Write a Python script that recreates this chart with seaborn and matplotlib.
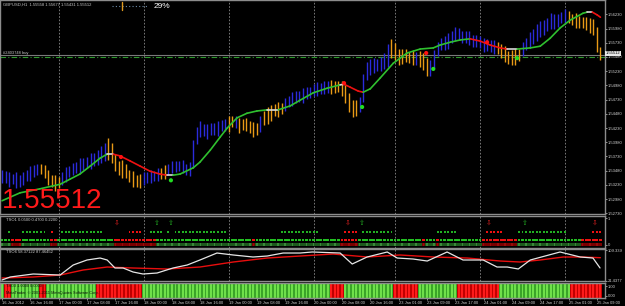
import matplotlib
matplotlib.use("Agg")
import matplotlib.pyplot as plt
import seaborn as sns
import numpy as np
import pandas as pd

# ---------------- data ----------------
closes = [
    1.5338, 1.5335, 1.5331, 1.5335, 1.5328, 1.5331, 1.5338, 1.5342, 1.5345, 1.5349,
    1.5352, 1.5351, 1.5342, 1.5331, 1.5328, 1.5324, 1.5331, 1.5338, 1.5345, 1.5349,
    1.5352, 1.5356, 1.5358, 1.5361, 1.5363, 1.5366, 1.5370, 1.5373, 1.5379, 1.5384,
    1.5388, 1.5370, 1.5356, 1.5349, 1.5352, 1.5342, 1.5335, 1.5331, 1.5328, 1.5331,
    1.5337, 1.5335, 1.5340, 1.5338, 1.5345, 1.5342, 1.5349, 1.5352, 1.5356, 1.5354,
    1.5358, 1.5352, 1.5349, 1.5352, 1.5402, 1.5419, 1.5423, 1.5416, 1.5419, 1.5423,
    1.5419, 1.5426, 1.5430, 1.5426, 1.5433, 1.5437, 1.5430, 1.5426, 1.5433, 1.5426,
    1.5423, 1.5419, 1.5423, 1.5437, 1.5444, 1.5447, 1.5451, 1.5458, 1.5454, 1.5461,
    1.5468, 1.5472, 1.5476, 1.5479, 1.5477, 1.5483, 1.5486, 1.5486, 1.5493, 1.5490,
    1.5495, 1.5493, 1.5497, 1.5493, 1.5497, 1.5495, 1.5490, 1.5476, 1.5461, 1.5454,
    1.5461, 1.5469, 1.5518, 1.5528, 1.5532, 1.5535, 1.5532, 1.5539, 1.5542, 1.5560,
    1.5567, 1.5549, 1.5546, 1.5553, 1.5549, 1.5546, 1.5549, 1.5542, 1.5546, 1.5535,
    1.5525, 1.5532, 1.5557, 1.5567, 1.5574, 1.5571, 1.5581, 1.5585, 1.5592, 1.5585,
    1.5581, 1.5585, 1.5578, 1.5574, 1.5578, 1.5571, 1.5567, 1.5571, 1.5564, 1.5567,
    1.5560, 1.5557, 1.5549, 1.5546, 1.5549, 1.5546, 1.5557, 1.5567, 1.5574, 1.5581,
    1.5588, 1.5595, 1.5599, 1.5602, 1.5609, 1.5613, 1.5609, 1.5616, 1.5618, 1.5620,
    1.5616, 1.5613, 1.5611, 1.5609, 1.5608, 1.5606, 1.5602, 1.5599, 1.5557, 1.55512,
]
bar_range_pips = [
    22, 20, 26, 18, 28, 20, 22, 20, 26, 22,
    20, 18, 24, 26, 20, 28, 20, 22, 26, 20,
    22, 20, 26, 22, 20, 28, 22, 26, 30, 32,
    40, 34, 30, 26, 32, 24, 22, 28, 20, 24,
    22, 20, 24, 18, 22, 20, 24, 20, 22, 20,
    18, 22, 20, 24, 40, 30, 28, 22, 26, 20,
    22, 26, 20, 22, 28, 20, 22, 26, 20, 22,
    20, 26, 22, 28, 26, 30, 28, 22, 26, 20,
    22, 20, 26, 22, 20, 26, 22, 20, 22, 26,
    20, 22, 20, 26, 22, 20, 28, 32, 34, 30,
    28, 26, 44, 32, 28, 26, 22, 26, 28, 40,
    34, 30, 28, 26, 22, 20, 26, 22, 28, 30,
    32, 28, 30, 26, 22, 26, 28, 22, 26, 22,
    20, 22, 26, 20, 22, 20, 26, 22, 20, 26,
    22, 26, 28, 22, 26, 28, 22, 26, 22, 28,
    26, 30, 28, 26, 22, 28, 26, 22, 20, 26,
    22, 20, 26, 22, 20, 22, 26, 28, 44, 22,
]
orange_start = [11, 30, 45, 64, 67, 74, 93, 96, 110, 118, 140, 160]
orange_end = [16, 39, 46, 65, 72, 79, 95, 100, 116, 120, 146, 169]

ma_idx = [0, 5.1, 10.7, 16.4, 19.2, 22.0, 24.9, 27.7, 29.7, 31.4, 33.3, 36.2, 39.0, 41.8,
          44.6, 46.6, 48.3, 50.3, 54.0, 55.9, 58.8, 61.6, 63.6, 66.4, 69.2, 72.0, 74.9,
          78.0, 81.4, 84.2, 87.9, 91.8, 95.5, 96.6, 98.3, 100.6, 102.0, 104.0, 106.8,
          110.5, 114.4, 118.1, 121.8, 123.7, 126.6, 129.4, 132.2, 135.0, 137.9, 140.7,
          142.7, 145.5, 149.2, 152.0, 154.8, 157.6, 160.5, 164.1, 165.3, 166.7, 168.1, 169.0]
ma_val = [1.5295, 1.5309, 1.5316, 1.5324, 1.5333, 1.5342, 1.5356, 1.5370, 1.5377, 1.5377,
          1.5374, 1.5365, 1.5356, 1.5347, 1.5342, 1.5340, 1.5340, 1.5342, 1.5353, 1.5363,
          1.5384, 1.5407, 1.5423, 1.5441, 1.5449, 1.5453, 1.5455, 1.5455, 1.5462, 1.5472,
          1.5485, 1.5493, 1.5499, 1.5500, 1.5495, 1.5488, 1.5486, 1.5492, 1.5511, 1.5537,
          1.5555, 1.5562, 1.5564, 1.5569, 1.5574, 1.5578, 1.5580, 1.5576, 1.5569, 1.5564,
          1.5562, 1.5562, 1.5564, 1.5567, 1.5581, 1.5599, 1.5613, 1.5625, 1.5627, 1.5627,
          1.5622, 1.5618]

sell_idx = [33.6, 96.6, 119.8, 137.0]
sell_px = [1.5372, 1.5502, 1.5555, 1.5574]
buy_idx = [47.7, 101.7, 121.8, 145.5]
buy_px = [1.5331, 1.5460, 1.5527, 1.5546]

last_price = 1.55512
order_price = 1.55472

price_ticks = [1.56230, 1.55980, 1.55730, 1.55480, 1.55230, 1.54980, 1.54730, 1.54480,
               1.54230, 1.53980, 1.53730, 1.53480, 1.53230, 1.52980, 1.52730]
price_tick_labels = ["1.56230", "1.55980", "1.55730", "1.55480", "1.55230", "1.54980",
                     "1.54730", "1.54480", "1.54230", "1.53980", "1.53730", "1.53480",
                     "1.53230", "1.52980", "1.52730"]

time_tick_idx = [0, 8, 16, 24, 32, 40, 48, 56, 64, 72, 80, 88, 96, 104, 112, 120, 128,
                 136, 144, 152, 160, 168]
time_tick_labels = ["16 Jan 2012", "16 Jan 16:00", "17 Jan 00:00", "17 Jan 08:00",
                    "17 Jan 16:00", "18 Jan 00:00", "18 Jan 08:00", "18 Jan 16:00",
                    "19 Jan 00:00", "19 Jan 08:00", "19 Jan 16:00", "20 Jan 00:00",
                    "20 Jan 08:00", "20 Jan 16:00", "23 Jan 01:00", "23 Jan 09:00",
                    "23 Jan 17:00", "24 Jan 01:00", "24 Jan 09:00", "24 Jan 17:00",
                    "25 Jan 01:00", "25 Jan 09:00"]
day_idx = [16, 40, 64, 88, 111, 135, 159]

# indicator panel 2 (TSO1)
arrow_dn_idx = [32.5, 97.7, 137.6, 167.5]
arrow_up_idx = [43.8, 47.7, 101.7, 147.5]
dot_start = [2, 6, 14, 17, 36, 42, 47, 49, 79, 97, 102, 123, 137, 146, 167]
dot_end = [2, 12, 14, 28, 39, 45, 47, 63, 89, 100, 110, 128, 141, 159, 169]
dot_up = [1, 1, 0, 1, 0, 1, 1, 1, 1, 0, 1, 1, 0, 1, 0]
state_start = [0, 3, 6, 14, 16, 32, 44, 71, 72, 96, 101, 119, 120, 123, 124, 136, 146, 164]
state_end = [3, 6, 14, 16, 32, 44, 71, 72, 96, 101, 119, 120, 123, 124, 136, 146, 164, 170]
state_up = [1, 0, 1, 0, 1, 0, 1, 0, 1, 0, 1, 0, 1, 0, 1, 0, 1, 0]

# indicator panel 3 (TSO6)
osc_idx = [0, 2.3, 8.8, 16.4, 20.1, 24.0, 27.7, 29.7, 31.9, 34.2, 37.0, 39.8, 43.8, 48.3,
           52.3, 55.9, 60.7, 65.3, 70.9, 74.9, 79.4, 84.2, 87.6, 95.5, 98.9, 103.1, 108.8,
           111.6, 116.1, 120.1, 125.7, 130.2, 135.9, 139.8, 142.7, 145.8, 149.2, 157.6,
           163.3, 166.9, 168.9]
osc_val = [24.3, 32.8, 41.3, 38.4, 66.8, 81.0, 86.6, 81.0, 58.3, 58.3, 47.0, 41.3, 44.1,
           58.3, 66.8, 81.0, 100.8, 95.2, 89.5, 92.3, 100.8, 100.8, 103.7, 100.8, 69.6,
           89.5, 103.7, 86.6, 83.8, 78.1, 103.7, 81.0, 81.0, 61.1, 61.1, 55.5, 81.0, 103.7,
           89.5, 86.6, 58.4]
sig_idx = [0, 8.8, 16.4, 22.9, 29.7, 37.0, 46.6, 55.9, 65.3, 74.9, 84.2, 93.5, 103.1,
           112.4, 121.8, 131.4, 140.7, 146.3, 152.0, 158.5, 164.1, 169.0]
sig_val = [29.9, 32.8, 38.4, 52.6, 61.1, 58.3, 55.5, 61.1, 75.3, 86.6, 92.3, 98.0, 89.5,
           95.2, 89.5, 86.6, 78.1, 75.3, 81.0, 89.5, 89.5, 87.5]

# indicator panel 4 (histogram)
hist_start = [0, 1, 3, 11, 13, 27, 40, 93, 97, 111, 118, 129, 141, 161]
hist_end = [1, 3, 11, 13, 27, 40, 93, 97, 111, 118, 129, 141, 161, 170]
hist_up = [1, 0, 1, 0, 1, 0, 1, 0, 1, 0, 1, 0, 1, 0]

# ---------------- style ----------------
sns.set_theme(style="dark", rc={"axes.facecolor": "black", "figure.facecolor": "black",
                                "savefig.facecolor": "black"})
plt.rcParams['font.family'] = ['Liberation Sans', 'DejaVu Sans']

W, H = 625, 306
fig = plt.figure(figsize=(6.25, 3.06), dpi=100)


def add_ax(top, bottom, right=605):
    return fig.add_axes([0, 1 - bottom / H, right / W, (bottom - top) / H])


ax1 = add_ax(0, 214)
ax2 = add_ax(216, 248)
ax3 = add_ax(249, 281)
ax4 = add_ax(283, 298)
XL = (-0.57, 170.3)
GRID = '#8a8a8a'
LBL = '#d0d0d0'
for ax in (ax1, ax2, ax3, ax4):
    ax.set_facecolor('black')
    ax.set_xlim(XL)
    ax.grid(False)
    for s in ax.spines.values():
        s.set_color('#8c8c8c')
        s.set_linewidth(1.0)
        s.set_visible(True)
    ax.tick_params(axis='x', bottom=False, labelbottom=False)
    ax.yaxis.tick_right()
    ax.tick_params(axis='y', labelsize=3.0, colors=LBL, length=1.5, width=0.5, pad=0.8)
    for d in day_idx:
        ax.axvline(d, color=GRID, lw=0.6, ls=(0, (2, 2)), zorder=0.5)

# ---------------- main price panel ----------------
n = len(closes)
idx = np.arange(n)
c = np.array(closes)
o = np.concatenate([[c[0]], c[:-1]])
rng = np.array(bar_range_pips[:n]) * 0.0001
body = np.abs(c - o)
tot = np.maximum(body, rng)
pad = (tot - body) / 2
hi = np.maximum(o, c) + pad
lo = np.minimum(o, c) - pad
is_orange = np.zeros(n, bool)
for s_, e_ in zip(orange_start, orange_end):
    is_orange[s_:e_ + 1] = True
cols = np.where(is_orange, '#e99a16', '#2b2bdc')
bars = pd.DataFrame({"i": idx, "lo": lo, "hi": hi, "col": cols})
ax1.vlines(bars["i"], bars["lo"], bars["hi"], colors=bars["col"], linewidth=1.0, zorder=2)

ax1.set_ylim(1.52717, 1.56483)
ax1.set_yticks(price_ticks)
ax1.set_yticklabels(price_tick_labels)

# moving average coloured by direction
m = min(len(ma_idx), len(ma_val))
for k in range(m - 1):
    d = ma_val[k + 1] - ma_val[k]
    if d > 0.00012:
        col = '#2fc02f'
    elif d < -0.00012:
        col = '#ee1111'
    else:
        col = '#d8d8d8'
    ax1.plot(ma_idx[k:k + 2], ma_val[k:k + 2], color=col, lw=1.2, zorder=3,
             solid_capstyle='round')

sns.scatterplot(x=sell_idx, y=sell_px, ax=ax1, color='#ff1010', s=9, marker='o',
                edgecolor='none', zorder=4, legend=False)
sns.scatterplot(x=buy_idx, y=buy_px, ax=ax1, color='#22dd22', s=9, marker='o',
                edgecolor='none', zorder=4, legend=False)

ax1.axhline(last_price, color='#7a7a7a', lw=0.8, zorder=1)
ax1.axhline(order_price, color='#2e9a2e', lw=0.8, ls=(0, (5, 2, 1, 2)), zorder=1)

# ---------------- panel 2 ----------------
ax2.set_ylim(-0.12, 1.08)
ax2.set_yticks([1, 0])
ax2.set_yticklabels(["1", "0"])
for s_, e_, u in zip(state_start, state_end, state_up):
    xs = np.arange(s_, min(e_, n))
    ax2.bar(xs, 0.11, bottom=-0.045, width=1.0,
            color='#1d5a1d' if u else '#7a0000', edgecolor='none', zorder=1)
    ax2.bar(xs[::2], 0.11, bottom=-0.045, width=0.45,
            color='#3a8a3a' if u else '#9a0a0a', edgecolor='none', zorder=1.2)
    sns.scatterplot(x=xs, y=np.full(len(xs), 0.18), ax=ax2, marker='s', s=4,
                    color='#22c022' if u else '#ee1111', edgecolor='none', legend=False,
                    zorder=2)
for s_, e_, u in zip(dot_start, dot_end, dot_up):
    xs = np.arange(s_, e_ + 1)
    sns.scatterplot(x=xs, y=np.full(len(xs), 0.48), ax=ax2, marker='s', s=2,
                    color='#22b022' if u else '#ee1111', edgecolor='none', legend=False,
                    zorder=2)
for xi in arrow_dn_idx:
    ax2.text(xi, 0.82, "\u21e9", color='#dd2020', fontsize=5, ha='center', va='center',
             family='DejaVu Sans')
for xi in arrow_up_idx:
    ax2.text(xi, 0.82, "\u21e7", color='#22aa22', fontsize=5, ha='center', va='center',
             family='DejaVu Sans')
ax2.text(1, 0.99, "TSO1 0.0500 0.4700 0.2200", color=LBL, fontsize=3.0, va='top')

# ---------------- panel 3 ----------------
ax3.set_ylim(21.4377, 112.2)
ax3.set_yticks([109.339, 21.4377])
ax3.set_yticklabels(["109.339", "21.4377"])
osc = pd.DataFrame({"i": osc_idx, "v": osc_val})
sig = pd.DataFrame({"i": sig_idx, "v": sig_val})
sns.lineplot(data=sig, x="i", y="v", ax=ax3, color='#e80e0e', lw=1.0, legend=False,
             zorder=2)
sns.lineplot(data=osc, x="i", y="v", ax=ax3, color='#e6e6e6', lw=0.9, legend=False,
             zorder=3)
ax3.set_xlabel("")
ax3.set_ylabel("")
ax3.text(1, 108, "TSO6 58.37122 87.46452", color=LBL, fontsize=3.0, va='top')

# ---------------- panel 4 ----------------
ax4.set_ylim(0, 1)
ax4.set_yticks([0.8, 0.15])
ax4.set_yticklabels(["1.00", "0.00"])
for s_, e_, u in zip(hist_start, hist_end, hist_up):
    xs = np.arange(s_, min(e_, n))
    ax4.bar(xs, 1, width=1.0, color='#3aa428' if u else '#c00000', edgecolor='none',
            zorder=1)
    ax4.bar(xs, 1, width=0.55, color='#6fe04a' if u else '#ff1a1a', edgecolor='none',
            zorder=1.2)
ax4.text(1, 0.95, "TSO3 1.0000 0.0000", color='#101010', fontsize=2.8, va='top')
ax4.text(1, 0.45, "MetaTrader, \u00a9 2001-2011 MetaQuotes Software Corp.",
         color='#101010', fontsize=2.8, va='top')
ax4.set_xticks(time_tick_idx)
ax4.set_xticklabels(time_tick_labels, ha='left')
ax4.tick_params(axis='x', bottom=True, labelbottom=True, labelsize=2.9, colors=LBL,
                length=1.5, width=0.5, pad=0.5)
ax4.set_xlabel("")
ax4.set_ylabel("")


# ---------------- figure texts ----------------
def ftext(x, y, s, **kw):
    fig.text(x / W, 1 - y / H, s, **kw)


ftext(3, 5, "GBPUSD,H1  1.55558 1.55677 1.55431 1.55512", color='#c8c8c8', fontsize=3.0,
      va='center')
ftext(3, 53, "#2403748 buy", color='#c8c8c8', fontsize=2.9, va='center')
fig.add_artist(plt.Line2D([112 / W, 148 / W], [1 - 6 / H, 1 - 6 / H], color='#6a8aa8',
                          lw=0.8, ls=(0, (1, 2))))
fig.add_artist(plt.Line2D([122 / W, 122 / W], [1 - 2 / H, 1 - 10 / H], color='#e09a20',
                          lw=1.0))
ftext(154, 6, "29%", color='white', fontsize=6, va='center')
ftext(2, 208, "1.55512", color='#ff1a1a', fontsize=20, va='baseline')
ftext(606, 53.5, "1.55512", color='black', fontsize=3.0, va='center',
      bbox=dict(boxstyle='square,pad=0.15', facecolor='#e8e8e8', edgecolor='none'))

fig.savefig("out.png", dpi=100, facecolor='black')
